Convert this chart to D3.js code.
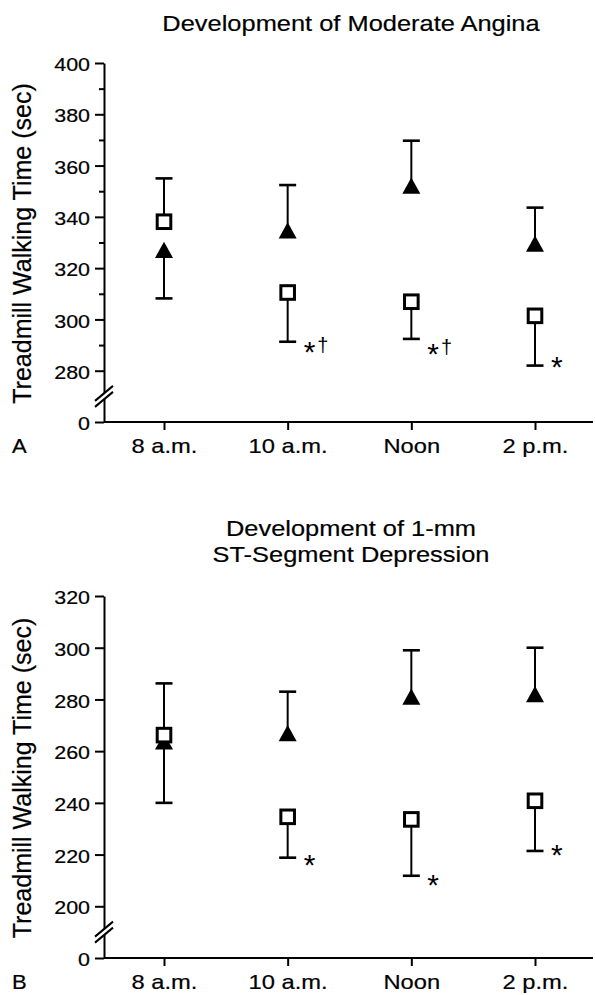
<!DOCTYPE html>
<html>
<head>
<meta charset="utf-8">
<script src="https://cdn.jsdelivr.net/npm/d3@7"></script>
<style>
  body { margin: 0; background: #fff; }
  svg { display: block; font-family: 'Liberation Sans', Arial, sans-serif; }
  svg text { stroke: #000; stroke-width: 0.2px; }
  svg text.mark { stroke: none; }
</style>
</head>
<body>
<svg id="chart" width="595" height="995"></svg>
<script>
// Treadmill walking time by time of day
const times = ['8 a.m.', '10 a.m.', 'Noon', '2 p.m.'];

// Panel A: development of moderate angina (sec)
const anginaSquare = [338.1, 310.5, 306.9, 301.4];
const anginaSquareBar = [355.0, 291.3, 292.4, 282.0];
const anginaTriangle = [327.1, 334.7, 352.1, 329.5];
const anginaTriangleBar = [308.2, 352.4, 369.7, 343.6];
const anginaMarks = ['', '*†', '*†', '*'];
const anginaMarkAt = [null, 290.0, 289.4, 284.2];
const anginaTicks = [0, 280, 300, 320, 340, 360, 380, 400];
const anginaMinorTicks = [290, 310, 330, 350, 370, 390];

// Panel B: development of 1-mm ST-segment depression (sec)
const stSquare = [266.2, 234.6, 233.6, 240.8];
const stSquareBar = [286.2, 218.8, 211.8, 221.4];
const stTriangle = [263.7, 266.9, 281.0, 282.0];
const stTriangleBar = [240.0, 283.0, 299.0, 300.0];
const stMarks = ['', '*', '*', '*'];
const stMarkAt = [null, 218.7, 210.9, 222.5];
const stTicks = [0, 200, 220, 240, 260, 280, 300, 320];
const stMinorTicks = [];

const SX = 1.13; // lettering in the figure is a bit wider than Arial
const axisX = 104;

const svg = d3.select('#chart');

function stretchedText(g, x, y, str, size, anchor) {
  return g.append('text')
    .attr('transform', `translate(${x},${y}) scale(${SX},1)`)
    .attr('text-anchor', anchor || 'middle')
    .attr('font-size', size)
    .attr('fill', '#000')
    .text(str);
}

function drawPanel(p) {
  const g = svg.append('g');

  // broken axis: the gap between 0 and the first tick is one tick step long
  const steps = (p.max - p.low) / 20 + 1;
  const y = d3.scaleLinear()
    .domain([0, p.low, p.max])
    .range([p.y0, p.y0 - (p.y0 - p.y1) / steps, p.y1]);
  const x = d3.scalePoint().domain(times).range([164, 535]);

  // titles
  p.title.forEach((line, i) => stretchedText(g, 351, p.titleY + i * 26, line, 22.5));

  // y axis
  const yAxis = g.append('g')
    .attr('transform', `translate(${axisX},0)`)
    .call(d3.axisLeft(y).tickValues(p.ticks).tickSize(9).tickSizeOuter(0).tickPadding(5))
    .attr('font-family', 'Liberation Sans, Arial, sans-serif');
  yAxis.selectAll('text')
    .attr('x', -14 / SX)
    .attr('dy', '0.4em')
    .attr('transform', `scale(${SX},1)`)
    .attr('font-size', 19)
    .attr('fill', '#000');

  if (p.minor.length) {
    g.append('g')
      .attr('transform', `translate(${axisX},0)`)
      .call(d3.axisLeft(y).tickValues(p.minor).tickSize(5).tickFormat(''))
      .select('.domain').remove();
  }

  // x axis
  const xAxis = g.append('g')
    .attr('transform', `translate(0,${p.y0})`)
    .call(d3.axisBottom(x).tickSize(8).tickSizeOuter(0))
    .attr('font-family', 'Liberation Sans, Arial, sans-serif');
  xAxis.select('.domain').remove();
  xAxis.selectAll('text')
    .attr('y', 31)
    .attr('dy', 0)
    .attr('transform', `scale(${SX},1)`)
    .attr('font-size', 21)
    .attr('fill', '#000');
  g.append('line')
    .attr('x1', axisX).attr('x2', 593)
    .attr('y1', p.y0).attr('y2', p.y0);

  g.selectAll('.tick line, .domain, line')
    .attr('stroke', '#000')
    .attr('stroke-width', 2);

  // axis break
  const by = y(p.low / 2);
  g.append('path')
    .attr('d', `M${axisX - 9},${by + 4.5} L${axisX + 9},${by - 10.5} L${axisX + 9},${by - 4.5} L${axisX - 9},${by + 10.5} Z`)
    .attr('fill', '#fff');
  [-3, 3].forEach(o => {
    g.append('line')
      .attr('x1', axisX - 9).attr('y1', by + o + 7.5)
      .attr('x2', axisX + 9).attr('y2', by + o - 7.5)
      .attr('stroke', '#000')
      .attr('stroke-width', 2);
  });

  // axis titles
  g.append('text')
    .attr('transform', `translate(31,${(p.y0 + p.y1) / 2 + 1}) rotate(-90)`)
    .attr('text-anchor', 'middle')
    .attr('font-size', 25)
    .attr('fill', '#000')
    .text('Treadmill Walking Time (sec)');
  stretchedText(g, 12, p.y0 + 31, p.label, 19.5, 'start');

  // error bars (one-sided)
  const bars = times.map((t, i) => [
    { t, v: p.square[i], e: p.squareBar[i] },
    { t, v: p.triangle[i], e: p.triangleBar[i] }
  ]).flat();
  g.append('g').selectAll('line')
    .data(bars)
    .join('line')
    .attr('x1', d => x(d.t)).attr('x2', d => x(d.t))
    .attr('y1', d => y(d.v)).attr('y2', d => y(d.e))
    .attr('stroke', '#000')
    .attr('stroke-width', 2);
  g.append('g').selectAll('line')
    .data(bars)
    .join('line')
    .attr('x1', d => x(d.t) - 8.5).attr('x2', d => x(d.t) + 8.5)
    .attr('y1', d => y(d.e)).attr('y2', d => y(d.e))
    .attr('stroke', '#000')
    .attr('stroke-width', 2.6);

  // filled triangles
  g.append('g').selectAll('path')
    .data(p.triangle)
    .join('path')
    .attr('transform', (d, i) => `translate(${x(times[i])},${y(d)})`)
    .attr('d', 'M0,-8.3 L9,8 L-9,8 Z')
    .attr('fill', '#000');

  // open squares
  g.append('g').selectAll('rect')
    .data(p.square)
    .join('rect')
    .attr('x', (d, i) => x(times[i]) - 6.8)
    .attr('y', d => y(d) - 6.8)
    .attr('width', 13.6)
    .attr('height', 13.6)
    .attr('fill', '#fff')
    .attr('stroke', '#000')
    .attr('stroke-width', 3);

  // significance marks
  p.marks.forEach((m, i) => {
    if (!m) return;
    const t = g.append('text')
      .attr('class', 'mark')
      .attr('transform', `translate(${x(times[i]) + 16},${y(p.markAt[i])})`)
      .attr('fill', '#000');
    t.append('tspan').attr('font-size', 30).attr('dy', 17).text('*');
    if (m.includes('†')) {
      t.append('tspan').attr('font-size', 20).attr('dx', 2).attr('dy', -10).text('†');
    }
  });
}

drawPanel({
  title: ['Development of Moderate Angina'], titleY: 31, label: 'A',
  y0: 422, y1: 63, low: 280, max: 400,
  ticks: anginaTicks, minor: anginaMinorTicks,
  square: anginaSquare, squareBar: anginaSquareBar,
  triangle: anginaTriangle, triangleBar: anginaTriangleBar,
  marks: anginaMarks, markAt: anginaMarkAt
});

drawPanel({
  title: ['Development of 1-mm', 'ST-Segment Depression'], titleY: 535.5, label: 'B',
  y0: 958, y1: 596, low: 200, max: 320,
  ticks: stTicks, minor: stMinorTicks,
  square: stSquare, squareBar: stSquareBar,
  triangle: stTriangle, triangleBar: stTriangleBar,
  marks: stMarks, markAt: stMarkAt
});
</script>
</body>
</html>
